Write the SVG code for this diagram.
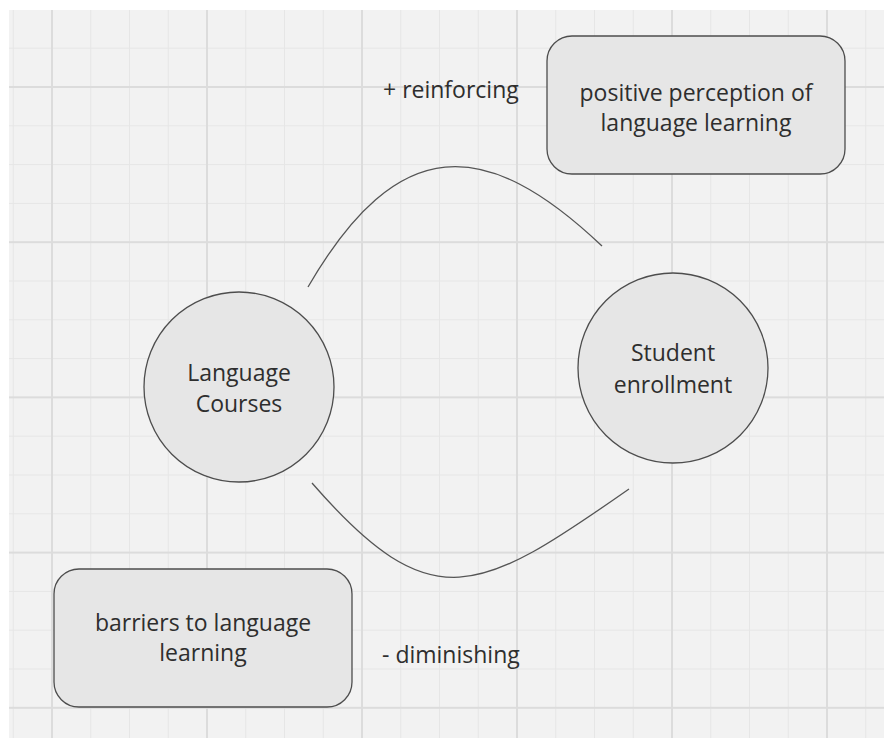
<svg xmlns="http://www.w3.org/2000/svg" width="884" height="738" viewBox="0 0 884 738">
  <style>
    .shape { fill: #e6e6e6; stroke: #4d4d4d; stroke-width: 1.3; }
    .label { font-family: "Open Sans", "Noto Sans", "Liberation Sans", sans-serif; font-size: 23px; fill: #2e2e2e; }
    .mid { text-anchor: middle; }
    .link { fill: none; stroke: #555555; stroke-width: 1.3; }
  </style>
  <defs>
    <pattern id="minorGrid" patternUnits="userSpaceOnUse" x="51.5" y="86.5" width="38.75" height="38.8">
      <rect x="0" y="0" width="1" height="38.8" fill="#e6e6e6"/>
      <rect x="0" y="0" width="38.75" height="1" fill="#e6e6e6"/>
    </pattern>
    <pattern id="majorGrid" patternUnits="userSpaceOnUse" x="51" y="86" width="155" height="155.2">
      <rect x="0" y="0" width="2" height="155.2" fill="#dcdcdc"/>
      <rect x="0" y="0" width="155" height="2" fill="#dcdcdc"/>
    </pattern>
  </defs>

  <!-- canvas with grid -->
  <rect width="884" height="738" fill="#ffffff"/>
  <rect x="9" y="10" width="875" height="728" fill="#f2f2f2"/>
  <rect x="9" y="10" width="875" height="728" fill="url(#minorGrid)"/>
  <rect x="9" y="10" width="875" height="728" fill="url(#majorGrid)"/>

  <!-- feedback loop arcs -->
  <g id="connectors">
    <path class="link" d="M308,287 C398,132 486,136 602,246"/>
    <path class="link" d="M312,483 C432,621 479,594 629,489"/>
  </g>

  <g id="positive-perception">
    <rect class="shape" x="547" y="36" width="298" height="138" rx="25" ry="25"/>
    <text class="label mid" x="696" y="101">positive perception of</text>
    <text class="label mid" x="696" y="131">language learning</text>
  </g>

  <g id="language-courses">
    <circle class="shape" cx="239" cy="387" r="95"/>
    <text class="label mid" x="239" y="381">Language</text>
    <text class="label mid" x="239" y="412">Courses</text>
  </g>

  <g id="student-enrollment">
    <circle class="shape" cx="673" cy="368" r="95"/>
    <text class="label mid" x="673" y="361">Student</text>
    <text class="label mid" x="673" y="393">enrollment</text>
  </g>

  <g id="barriers">
    <rect class="shape" x="54" y="569" width="298" height="138" rx="25" ry="25"/>
    <text class="label mid" x="203" y="631">barriers to language</text>
    <text class="label mid" x="203" y="661">learning</text>
  </g>

  <g id="reinforcing-label">
    <text class="label" x="383" y="98">+ reinforcing</text>
  </g>

  <g id="diminishing-label">
    <text class="label" x="382" y="663">- diminishing</text>
  </g>
</svg>
